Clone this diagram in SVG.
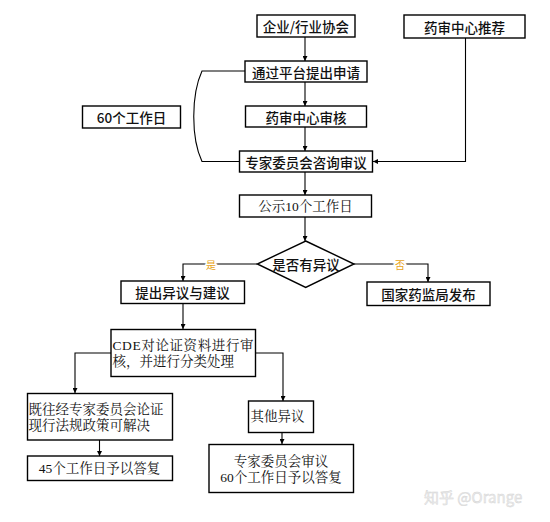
<svg xmlns="http://www.w3.org/2000/svg" width="550" height="522" viewBox="0 0 550 522">
<defs>
<marker id="ah" viewBox="0 0 8 8" refX="8" refY="4" markerWidth="5" markerHeight="5" orient="auto" markerUnits="userSpaceOnUse">
<path d="M0,0 L8,4 L0,8 z" fill="#000"/>
</marker>
<style>
.b{fill:#fff;stroke:#000;stroke-width:1.4}
.t{font-family:"Noto Sans CJK SC","Noto Sans",sans-serif;font-size:13.5px;font-weight:500;fill:#111;dominant-baseline:central}
.s{font-family:"Liberation Serif","Noto Serif CJK SC","Noto Sans CJK SC",serif;font-size:13.5px;fill:#111;dominant-baseline:central}
.c{text-anchor:middle}
.l{fill:none;stroke:#000;stroke-width:1.1}
.y{font-family:"Noto Sans CJK SC",sans-serif;font-size:10px;fill:#e8a317;text-anchor:middle;dominant-baseline:central;stroke:#fff;stroke-width:3;paint-order:stroke}
</style>
</defs>
<rect width="550" height="522" fill="#fff"/>
<g id="connectors">
<path class="l" d="M305,37 V61" marker-end="url(#ah)"/>
<path class="l" d="M305,82 V106" marker-end="url(#ah)"/>
<path class="l" d="M305,127 V151" marker-end="url(#ah)"/>
<path class="l" d="M465.5,38 V161.5 H373" marker-end="url(#ah)"/>
<path class="l" d="M305,172 V195" marker-end="url(#ah)"/>
<path class="l" d="M305,217 V241" marker-end="url(#ah)"/>
<path class="l" d="M257,264 H183 V281" marker-end="url(#ah)"/>
<path class="l" d="M354,264 H428 V282" marker-end="url(#ah)"/>
<path class="l" d="M183,303 V329" marker-end="url(#ah)"/>
<path class="l" d="M111,353 H75 V393" marker-end="url(#ah)"/>
<path class="l" d="M255,353 H283 V401" marker-end="url(#ah)"/>
<path class="l" d="M99.5,440 V456" marker-end="url(#ah)"/>
<path class="l" d="M282,432 V444" marker-end="url(#ah)"/>
<path class="l" d="M245,71 H202 C191,95 191,138 202,161.5 H239" stroke="#444"/>
<text class="y" x="211" y="264">是</text>
<text class="y" x="400" y="264">否</text>
</g>
<g id="n1"><rect class="b" x="257" y="15" width="98" height="22"/><text class="t c" x="306" y="26">企业/行业协会</text></g>
<g id="n2"><rect class="b" x="404" y="15" width="121" height="23"/><text class="t c" x="464.5" y="26.5">药审中心推荐</text></g>
<g id="n3"><rect class="b" x="245" y="61" width="122" height="21"/><text class="t c" x="306" y="71.5">通过平台提出申请</text></g>
<g id="n4"><rect class="b" x="82.5" y="106" width="98" height="22"/><text class="t c" x="131.5" y="117">60个工作日</text></g>
<g id="n5"><rect class="b" x="245.5" y="106" width="121" height="21"/><text class="t c" x="306" y="116.5">药审中心审核</text></g>
<g id="n6"><rect class="b" x="239.5" y="151" width="133" height="21"/><text class="t c" x="306" y="161.5">专家委员会咨询审议</text></g>
<g id="n7"><rect class="b" x="239.5" y="195" width="132" height="22"/><text class="s c" x="305.5" y="206">公示10个工作日</text></g>
<g id="n8"><polygon class="b" points="305.7,241 354,264 305.7,287.5 257.3,264"/><text class="t c" x="306" y="264">是否有异议</text></g>
<g id="n9"><rect class="b" x="121" y="281" width="123.5" height="22.5"/><text class="t c" x="182.5" y="292">提出异议与建议</text></g>
<g id="n10"><rect class="b" x="367" y="282" width="123" height="23.5"/><text class="t c" x="428.5" y="294">国家药监局发布</text></g>
<g id="n11"><rect class="b" x="111" y="329.5" width="144.5" height="47"/><text class="s" x="112.5" y="345" textLength="141" lengthAdjust="spacing">CDE对论证资料进行审</text><text class="s" x="112.5" y="361.5">核，并进行分类处理</text></g>
<g id="n12"><rect class="b" x="27.5" y="393.5" width="145" height="46.5"/><text class="s" x="28.5" y="409">既往经专家委员会论证</text><text class="s" x="28.5" y="425">现行法规政策可解决</text></g>
<g id="n13"><rect class="b" x="27.5" y="456" width="145" height="24.5"/><text class="s c" x="99.5" y="468">45个工作日予以答复</text></g>
<g id="n14"><rect class="b" x="248.5" y="401" width="65" height="31.5"/><text class="s" x="250.5" y="416.5">其他异议</text></g>
<g id="n15"><rect class="b" x="209" y="444.5" width="144.5" height="48"/><text class="s c" x="281" y="461.5">专家委员会审议</text><text class="s c" x="281" y="477">60个工作日予以答复</text></g>
<text x="424" y="503" font-family="Noto Sans CJK SC,sans-serif" font-size="15" fill="#ececec" stroke="#d4d4d4" stroke-width="0.4">知乎 @Orange</text>
</svg>
